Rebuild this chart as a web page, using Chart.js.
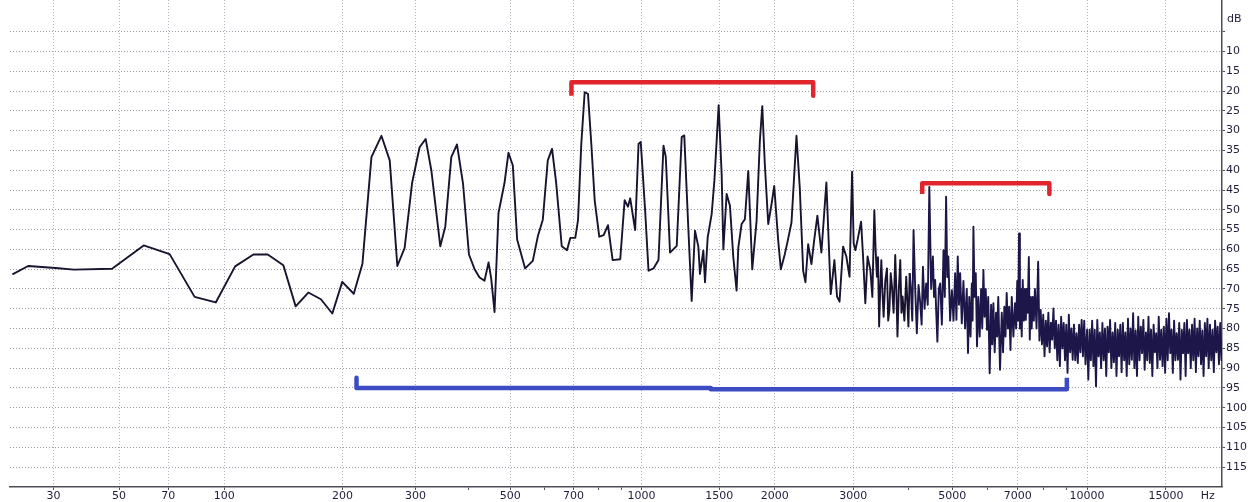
<!DOCTYPE html>
<html>
<head>
<meta charset="utf-8">
<title>Spectrum</title>
<script src="https://cdn.jsdelivr.net/npm/chart.js@4.4.1/dist/chart.umd.min.js"></script>
<style>
    html, body { margin: 0; padding: 0; background: #ffffff; }
    #wrap { width: 1248px; height: 502px; }
</style>
</head>
<body>
<div id="wrap"><canvas id="spectrum" width="1248" height="502"></canvas></div>
<script>
/**
 * Frequency spectrum (dB vs Hz) with marked bands
 */

// frequency axis ticks (Hz)
const hzMajorTicks = [30, 50, 70, 100, 200, 300, 500, 700, 1000, 1500, 2000, 3000, 5000, 7000, 10000, 15000];
const hzMinorTicks = [400, 600, 800, 900, 4000, 6000, 8000, 9000];

// level axis ticks (dB below reference)
const dbTicks = [0, 5, 10, 15, 20, 25, 30, 35, 40, 45, 50, 55, 60, 65, 70, 75, 80, 85, 90, 95, 100, 105, 110, 115, 120];

// spectrum, 20 - 700 Hz
const lowHz = [20.5, 23.9, 30.5, 35.5, 47.5, 59.4, 70.7, 83.1, 94.9, 106.9, 119.4, 130, 142.5, 153.1, 164.7, 177, 188.9, 199.8, 213.2, 223.8,
    235.3, 248.7, 260.4, 271.6, 282.7, 294.4, 306.8, 317.1, 327.1, 343.4, 352.9, 364.5, 375.9, 388.3, 401, 413.3, 424.5, 436, 445.5, 452,
    460, 469.8, 485, 495.5, 507.2, 519, 541.5, 564, 579.3, 594.8, 610.7, 624.6, 638, 657.5, 676, 687.9];
const lowDb = [66.3, 64.2, 64.7, 65.1, 64.9, 59.0, 61.2, 72.0, 73.4, 64.3, 61.3, 61.3, 64.0, 74.4, 70.9, 72.6, 76.2, 68.2, 71.2, 63.6,
    36.7, 31.3, 37.5, 64.2, 59.6, 43.3, 34.2, 32.1, 40.0, 59.2, 54.2, 36.7, 33.5, 43.3, 61.3, 65.0, 67.1, 67.9, 63.3, 67.5,
    75.8, 50.8, 43.3, 35.6, 38.8, 57.5, 64.8, 62.9, 56.7, 52.5, 37.5, 34.6, 42.9, 59.2, 60.2, 57.1];

// spectrum, 700 - 2700 Hz
const midHz = [706.2, 716.5, 729, 742.1, 755.1, 768.4, 782.2, 801.3, 820, 838.8, 859.6, 894.5, 915.4, 931.3, 942.5, 967.2, 984.6, 996, 1019, 1037.3,
    1064.6, 1092.7, 1121.6, 1135.1, 1160.6, 1201.9, 1233.5, 1250, 1277.2, 1299.2, 1321.8, 1345.2, 1356.5, 1380.5, 1392.5, 1412, 1441.6, 1462, 1495, 1518.4,
    1531.9, 1558.2, 1585.3, 1613.3, 1641, 1655.6, 1684.3, 1713.2, 1743.4, 1779.9, 1820.1, 1851.3, 1874.7, 1899.7, 1933.6, 1966.7, 1994.4, 2036.1, 2063.7, 2106.8,
    2136.4, 2181, 2238, 2276.3, 2316.8, 2344.4, 2377.3, 2418, 2451.9, 2493.8, 2545.8, 2612.2, 2671.5];
const midDb = [57.1, 52.6, 33.3, 20.3, 20.7, 33.3, 47.6, 56.8, 56.4, 53.9, 62.7, 62.5, 47.6, 49.2, 47.1, 55.1, 33.3, 32.9, 50.1, 65.4,
    64.8, 62.7, 33.8, 36.6, 60.8, 59.1, 31.6, 31.2, 55.1, 73.0, 55.3, 59.3, 66.2, 60.3, 68.3, 57.0, 51.1, 42.7, 23.6, 41.0,
    60.0, 46.0, 49.0, 62.0, 70.4, 59.5, 53.6, 52.4, 40.2, 65.0, 52.8, 32.6, 23.8, 38.5, 53.6, 48.6, 44.0, 57.8, 65.0, 61.2,
    58.1, 53.2, 31.3, 44.4, 65.4, 68.3, 58.7, 63.7, 57.8, 51.5, 60.8, 43.1, 71.3];

// spectrum, 2700 - 5000 Hz
const highHz = [2723, 2760, 2796, 2848, 2896, 2944, 2983, 3008, 3034, 3069,
    3125, 3157, 3194, 3231, 3278, 3312, 3346, 3368, 3391, 3410,
    3430, 3450, 3469, 3490, 3510, 3540, 3571, 3594, 3617, 3641,
    3665, 3696, 3727, 3748, 3770, 3797, 3825, 3848, 3871, 3907,
    3944, 3966, 3989, 4015, 4042, 4069, 4096, 4131, 4166, 4203,
    4240, 4270, 4299, 4335, 4371, 4407, 4443, 4484, 4525, 4551,
    4578, 4604, 4631, 4665, 4699, 4739, 4779, 4811, 4844, 4872,
    4900, 4945];
const highDb = [62.7, 71.9, 73.2, 59.3, 61.8, 66.9, 40.4, 58.5, 60.2, 57.6,
    53.0, 61.8, 73.6, 61.8, 65.2, 72.0, 50.1, 60.0, 66.9, 62.0,
    79.5, 70.0, 62.7, 71.0, 77.0, 68.0, 64.8, 78.0, 75.3, 66.0,
    69.4, 76.0, 61.4, 70.0, 82.0, 70.0, 62.7, 76.0, 71.9, 78.0,
    66.9, 73.0, 79.5, 66.0, 70.3, 78.0, 55.1, 70.0, 81.2, 69.0,
    73.6, 79.0, 64.4, 75.0, 68.6, 74.0, 44.2, 70.0, 61.8, 72.0,
    67.7, 76.0, 83.3, 70.0, 68.6, 79.0, 60.2, 72.0, 46.7, 67.0,
    61.8, 78.0];

// spectrum, 5000 - 10000 Hz
const upperHz = [4990, 5032, 5074, 5108, 5143, 5175, 5207, 5251, 5296, 5341,
    5387, 5422, 5457, 5493, 5530, 5552, 5575, 5609, 5643, 5679,
    5716, 5758, 5800, 5834, 5869, 5904, 5940, 5978, 6017, 6061,
    6106, 6142, 6178, 6220, 6263, 6299, 6335, 6393, 6451, 6494,
    6537, 6576, 6616, 6659, 6702, 6746, 6791, 6848, 6905, 6945,
    6985, 7017, 7050, 7081, 7112, 7148, 7185, 7226, 7268, 7300,
    7331, 7372, 7414, 7450, 7486, 7524, 7563, 7607, 7651, 7714,
    7778, 7829, 7880, 7932, 7984, 8037, 8090, 8143, 8197, 8251,
    8305, 8360, 8415, 8471, 8527, 8583, 8640, 8697, 8754, 8812,
    8870, 8929, 8988, 9047, 9107, 9167, 9228, 9289, 9350, 9412,
    9474, 9537, 9600, 9663, 9727, 9791, 9856, 9921];
const upperDb = [70.3, 78.0, 66.0, 77.8, 61.8, 74.0, 66.0, 78.7, 68.0, 80.0,
    70.0, 86.2, 72.0, 82.0, 68.6, 78.0, 54.3, 72.0, 66.0, 84.5,
    72.0, 82.0, 70.0, 80.0, 65.2, 77.0, 70.0, 80.3, 72.0, 91.3,
    74.0, 84.0, 73.6, 86.0, 76.0, 82.0, 72.0, 90.4, 76.0, 86.0,
    74.5, 82.0, 71.0, 80.0, 74.5, 85.4, 72.0, 82.0, 73.6, 80.0,
    68.0, 78.0, 56.0, 80.0, 70.0, 82.0, 67.7, 78.0, 70.0, 77.8,
    70.0, 76.0, 61.9, 82.8, 72.0, 80.0, 72.0, 78.0, 70.0, 80.0,
    63.1, 83.0, 75.3, 84.0, 76.5, 87.0, 78.0, 84.5, 76.0, 86.0,
    78.5, 82.8, 74.9, 85.0, 78.0, 88.0, 79.0, 89.5, 77.0, 85.0,
    78.6, 88.0, 79.0, 91.2, 76.5, 86.0, 80.0, 87.9, 79.0, 88.0,
    81.2, 88.7, 79.0, 86.0, 77.8, 87.0, 78.0, 89.0];

// spectrum, 10 - 20 kHz (noise floor)
const topHz = [10000, 10066, 10132, 10199, 10266, 10334, 10402, 10471, 10540, 10610,
    10680, 10750, 10821, 10893, 10965, 11037, 11110, 11183, 11257, 11331,
    11406, 11481, 11557, 11633, 11710, 11787, 11865, 11943, 12022, 12101,
    12181, 12261, 12342, 12424, 12506, 12588, 12671, 12755, 12839, 12924,
    13009, 13095, 13181, 13268, 13356, 13444, 13533, 13622, 13712, 13802,
    13893, 13985, 14077, 14170, 14264, 14358, 14453, 14548, 14644, 14741,
    14838, 14936, 15034, 15133, 15233, 15334, 15435, 15537, 15639, 15742,
    15846, 15951, 16056, 16162, 16269, 16376, 16484, 16593, 16703, 16813,
    16924, 17036, 17148, 17261, 17375, 17490, 17605, 17721, 17838, 17956,
    18075, 18194, 18314, 18435, 18557, 18679, 18802, 18926, 19051, 19177,
    19304, 19431, 19559, 19688, 19818, 19949, 20000];
const topDb = [80.3, 92.9, 80.3, 88.0, 78.0, 89.5, 80.3, 94.6, 77.8, 87.0,
    81.0, 90.0, 78.6, 88.0, 80.0, 92.0, 79.5, 86.0, 77.8, 90.0,
    81.0, 88.5, 78.6, 92.0, 80.3, 87.0, 79.0, 91.0, 78.6, 88.0,
    81.0, 92.0, 77.5, 89.0, 80.0, 87.9, 76.1, 90.0, 80.5, 92.0,
    77.0, 88.0, 79.5, 86.2, 77.8, 90.4, 81.0, 88.0, 77.0, 88.7,
    80.3, 92.0, 79.0, 86.0, 81.2, 90.0, 77.0, 87.9, 80.3, 89.5,
    79.5, 91.2, 77.5, 88.0, 76.1, 86.2, 80.3, 91.2, 78.0, 88.0,
    81.2, 87.9, 78.6, 92.9, 80.3, 86.2, 78.6, 92.0, 77.8, 86.2,
    80.3, 90.0, 79.0, 88.0, 77.5, 91.0, 80.0, 87.0, 78.0, 89.0,
    80.5, 92.0, 78.6, 87.0, 77.5, 90.0, 79.0, 88.0, 80.3, 91.0,
    78.0, 86.0, 79.5, 89.0, 78.6, 88.0, 83.0];

// band markers
const redBandAHz = [692, 692, 2440, 2440];
const redBandADb = [21.2, 17.8, 17.8, 21.2];
const redBandBHz = [4283, 4283, 8240, 8240];
const redBandBDb = [46.0, 43.3, 43.3, 46.0];
const blueBandHz = [216.5, 216.5, 1435, 1435, 9014, 9014];
const blueBandDb = [92.4, 95.0, 95.0, 95.35, 95.35, 92.4];

const HZ_OFFSET = 20;
const LABEL_COLOR = '#1f1d3c';
const GRID_COLOR = '#9a9aa6';
const AXIS_COLOR = '#4d4d58';
const FONT = { family: '"DejaVu Sans", Verdana, sans-serif', size: 11, lineHeight: 1.1 };

/**
 * Frequency scale: log10(f + 20), as used by the analyser display
 */
class HzScale extends Chart.Scale {
    determineDataLimits() {
        this.min = this.options.min;
        this.max = this.options.max;
    }

    buildTicks() {
        return hzMajorTicks.concat(hzMinorTicks)
            .sort((a, b) => a - b)
            .map(v => ({ value: v }));
    }

    getLabelForValue(value) {
        return String(value);
    }

    configure() {
        super.configure();
        this._startValue = Math.log10(this.min + HZ_OFFSET);
        this._valueRange = Math.log10(this.max + HZ_OFFSET) - this._startValue;
    }

    getPixelForValue(value) {
        return this.getPixelForDecimal((Math.log10(value + HZ_OFFSET) - this._startValue) / this._valueRange);
    }

    getValueForPixel(pixel) {
        return Math.pow(10, this._startValue + this.getDecimalForPixel(pixel) * this._valueRange) - HZ_OFFSET;
    }
}
HzScale.id = 'hz';
HzScale.defaults = {};
Chart.register(HzScale);

/**
 * Pair frequency and level arrays into {x, y} points
 */
function toPoints(hz, db) {
    return hz.map((f, i) => ({ x: f, y: db[i] }));
}

// unit captions at the end of each axis
const axisUnits = {
    id: 'axisUnits',
    afterDraw(chart) {
        const { ctx, scales } = chart;
        const x = scales.x;
        const y = scales.y;
        ctx.save();
        ctx.font = '11px "DejaVu Sans", Verdana, sans-serif';
        ctx.fillStyle = LABEL_COLOR;
        ctx.textBaseline = 'middle';
        ctx.textAlign = 'left';
        ctx.fillText('dB', y.left + 5, y.getPixelForValue(1.8));
        ctx.textAlign = 'center';
        ctx.fillText('Hz', x.getPixelForValue(18600), x.top + 9.5);
        ctx.restore();
    }
};

document.addEventListener('DOMContentLoaded', function() {
    const spectrum = toPoints(lowHz, lowDb)
        .concat(toPoints(midHz, midDb))
        .concat(toPoints(highHz, highDb))
        .concat(toPoints(upperHz, upperDb))
        .concat(toPoints(topHz, topDb));

    const bandStyle = {
        borderWidth: 4.5,
        pointRadius: 0,
        fill: false,
        tension: 0,
        borderJoinStyle: 'round',
        borderCapStyle: 'butt',
        order: 0
    };

    new Chart(document.getElementById('spectrum'), {
        type: 'line',
        data: {
            datasets: [
                Object.assign({ label: 'band A', data: toPoints(redBandAHz, redBandADb), borderColor: '#e1252d' }, bandStyle),
                Object.assign({ label: 'band B', data: toPoints(redBandBHz, redBandBDb), borderColor: '#e1252d' }, bandStyle),
                Object.assign({ label: 'band C', data: toPoints(blueBandHz, blueBandDb), borderColor: '#3d4cc2' }, bandStyle),
                {
                    label: 'level',
                    data: spectrum,
                    borderColor: '#19132f',
                    borderWidth: 1.9,
                    borderJoinStyle: 'round',
                    pointRadius: 0,
                    tension: 0,
                    fill: false,
                    order: 1,
                    // the dense upper range reads slightly bluer
                    segment: {
                        borderColor: ctx => ctx.p0.parsed.x > 4000 ? '#1c1748' : undefined
                    }
                }
            ]
        },
        options: {
            responsive: false,
            animation: false,
            events: [],
            layout: { padding: { left: 10, right: 0, top: 0, bottom: 0 } },
            plugins: {
                legend: { display: false },
                tooltip: { enabled: false }
            },
            scales: {
                x: {
                    type: 'hz',
                    position: 'bottom',
                    min: 20,
                    max: 20000,
                    ticks: {
                        autoSkip: false,
                        maxRotation: 0,
                        padding: 0,
                        color: LABEL_COLOR,
                        font: FONT,
                        callback: v => hzMajorTicks.includes(v) ? String(v) : ''
                    },
                    grid: {
                        color: ctx => (ctx.tick && hzMajorTicks.includes(ctx.tick.value)) ? '#b4b4c0' : 'rgba(0,0,0,0)',
                        tickColor: AXIS_COLOR,
                        tickLength: 3,
                        lineWidth: 1
                    },
                    border: { display: true, color: AXIS_COLOR, width: 1.5, dash: [1, 2] }
                },
                y: {
                    type: 'linear',
                    position: 'right',
                    reverse: true,
                    min: -3,
                    max: 120,
                    afterBuildTicks: scale => {
                        scale.ticks = dbTicks.map(v => ({ value: v }));
                    },
                    afterFit: scale => {
                        scale.paddingTop = 0;
                        scale.paddingBottom = 0;
                    },
                    ticks: {
                        autoSkip: false,
                        padding: 1,
                        color: LABEL_COLOR,
                        font: FONT,
                        callback: v => (v >= 10 && v <= 115) ? String(v) : ''
                    },
                    grid: {
                        color: ctx => (ctx.tick && ctx.tick.value > 0 && ctx.tick.value < 120) ? GRID_COLOR : 'rgba(0,0,0,0)',
                        tickColor: ctx => (ctx.tick && ctx.tick.value > 0 && ctx.tick.value < 120) ? AXIS_COLOR : 'rgba(0,0,0,0)',
                        tickLength: 3,
                        lineWidth: 1
                    },
                    border: { display: true, color: AXIS_COLOR, width: 1.5, dash: [1, 2] }
                }
            }
        },
        plugins: [axisUnits]
    });
});
</script>
</body>
</html>
